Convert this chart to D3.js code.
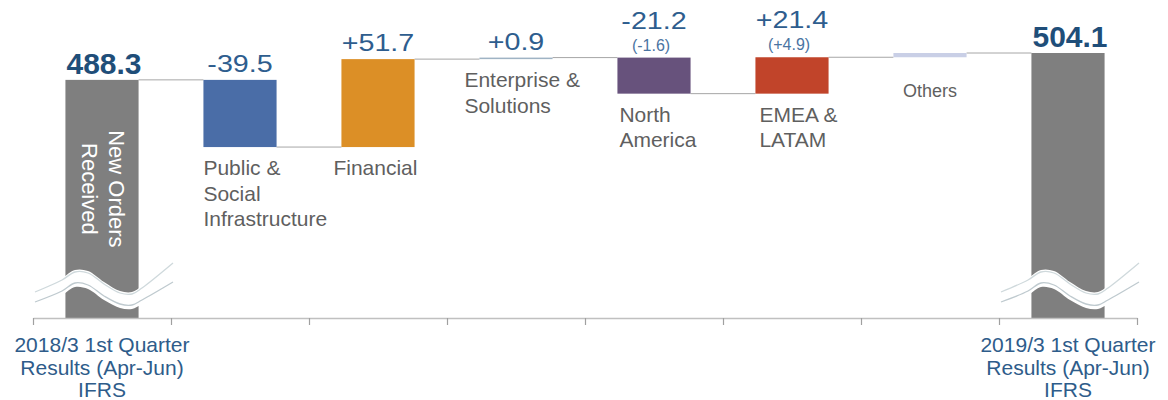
<!DOCTYPE html>
<html>
<head>
<meta charset="utf-8">
<script src="https://cdn.jsdelivr.net/npm/d3@7"></script>
<style>
  body { margin: 0; background: #ffffff; }
  svg { display: block; font-family: "Liberation Sans", Arial, sans-serif; }
</style>
</head>
<body>
<svg id="chart" width="1168" height="400"></svg>
<script>
// ---- data ----
const categories = ["prevTotal", "public", "financial", "enterprise", "northAmerica", "emea", "others", "currTotal"];
const categoryLines = [
  ["2018/3 1st Quarter", "Results (Apr-Jun)", "IFRS"],
  ["Public &", "Social", "Infrastructure"],
  ["Financial"],
  ["Enterprise &", "Solutions"],
  ["North", "America"],
  ["EMEA &", "LATAM"],
  ["Others"],
  ["2019/3 1st Quarter", "Results (Apr-Jun)", "IFRS"]
];
const kinds = ["total", "delta", "delta", "delta", "delta", "delta", "delta", "total"];
const values = [488.3, -39.5, 51.7, 0.9, -21.2, 21.4, 2.5, 504.1];
const valueLabels = ["488.3", "-39.5", "+51.7", "+0.9", "-21.2", "+21.4", "", "504.1"];
const subLabels = ["", "", "", "", "(-1.6)", "(+4.9)", "", ""];
const barColors = ["#7f7f7f", "#4a6da7", "#dc8f26", "#9fb3c4", "#67527c", "#c1442a", "#c9cfe6", "#7f7f7f"];
const barTitle = ["New Orders", "Received"];
const axisFloor = 348.3;

// ---- layout ----
const svg = d3.select("#chart");
const x = d3.scaleBand().domain(categories).range([33, 1137]).paddingInner(0.47).paddingOuter(0.235);
const edges = d3.scaleLinear().domain([0, categories.length]).range([33, 1137]);
const y = d3.scaleLinear().domain([axisFloor, 504.1]).range([318, 53]);

// running totals for the waterfall
let run = 0;
const bars = categories.map((c, i) => {
  let start, end;
  if (kinds[i] === "total") { start = axisFloor; end = values[i]; run = values[i]; }
  else { start = run; end = run + values[i]; run = end; }
  return { key: c, i, start, end, lo: Math.min(start, end), hi: Math.max(start, end), total: kinds[i] === "total" };
});

// connector lines between consecutive bars
const conn = svg.append("g").attr("stroke", "#a6a6a6").attr("stroke-width", 1);
bars.slice(0, -1).forEach((b, i) => {
  conn.append("line")
    .attr("x1", x(b.key) + x.bandwidth()).attr("x2", x(bars[i + 1].key))
    .attr("y1", y(b.end)).attr("y2", y(b.end));
});

// bars
svg.append("g").selectAll("rect").data(bars).join("rect")
  .attr("x", d => x(d.key))
  .attr("width", x.bandwidth())
  .attr("y", d => y(d.hi))
  .attr("height", d => Math.max(1.5, y(d.lo) - y(d.hi)))
  .attr("fill", (d, i) => barColors[i]);

// axis break marks on the total bars
const upperRel = [[-67, 292], [-40, 280], [-27, 272], [-14, 273], [2, 284], [18, 293], [30, 294], [40, 288], [71, 263]];
const lowerRel = [[-67, 302], [-40, 291], [-27, 283], [-14, 285], [2, 296], [18, 304], [30, 305], [40, 300], [71, 282]];
const curve = d3.line().curve(d3.curveCatmullRom.alpha(0.5));
bars.filter(b => b.total).forEach(b => {
  const cx = x(b.key) + x.bandwidth() / 2;
  const up = upperRel.map(([dx, yy]) => [cx + dx, yy]);
  const low = lowerRel.map(([dx, yy]) => [cx + dx, yy]);
  const band = d3.area().curve(d3.curveCatmullRom.alpha(0.5))
    .x(d => d[0]).y0(d => d[1] - 2).y1((d, k) => low[k][1] + 4);
  svg.append("path").attr("d", band(up)).attr("fill", "#ffffff");
  svg.append("path").attr("d", curve(up)).attr("fill", "none").attr("stroke", "#cfd9dc").attr("stroke-width", 1.3);
  svg.append("path").attr("d", curve(low)).attr("fill", "none").attr("stroke", "#bfcacf").attr("stroke-width", 1.3);
});

// rotated caption inside the first bar
const first = bars[0];
const cap = svg.append("text")
  .attr("transform", `translate(${x(first.key) + x.bandwidth() / 2 + 7},${y(first.end) + 109}) rotate(90)`)
  .attr("fill", "#ffffff").attr("font-size", 22).attr("text-anchor", "middle");
barTitle.forEach((t, k) => cap.append("tspan").attr("x", 0).attr("dy", k === 0 ? 0 : 27).text(t));

// x axis with ticks at the band edges
const axis = svg.append("g").attr("transform", "translate(0,318)")
  .call(d3.axisBottom(edges).tickValues(d3.range(categories.length + 1)).tickFormat("").tickSizeInner(7).tickSizeOuter(0));
axis.select(".domain").attr("stroke", "#c0c0c0").attr("stroke-width", 1.6);
axis.selectAll(".tick line").attr("stroke", "#a0a0a0").attr("stroke-width", 1.2);

// value labels
bars.forEach((b, i) => {
  const cx = x(b.key) + x.bandwidth() / 2;
  const top = y(b.hi);
  if (b.total) {
    svg.append("text").attr("x", cx + 2).attr("y", top - 6)
      .attr("text-anchor", "middle").attr("font-size", 30).attr("font-weight", "bold")
      .attr("fill", "#1f4e79").text(valueLabels[i]);
  } else if (valueLabels[i]) {
    const base = subLabels[i] ? top - 29 : top - 8;
    svg.append("text").attr("transform", `translate(${cx},${base}) scale(1.17,1)`)
      .attr("text-anchor", "middle").attr("font-size", 24.5)
      .attr("fill", "#2e5d8e").text(valueLabels[i]);
    if (subLabels[i]) {
      svg.append("text").attr("x", cx - 3).attr("y", top - 7)
        .attr("text-anchor", "middle").attr("font-size", 16)
        .attr("fill", "#4a74a2").text(subLabels[i]);
    }
  }
});

// category labels
const nudge = { financial: -8, enterprise: -15, northAmerica: 2, emea: 4 };
bars.forEach((b, i) => {
  const lines = categoryLines[i];
  if (b.total) {
    const cx = x(b.key) + x.bandwidth() / 2;
    const t = svg.append("text").attr("text-anchor", "middle").attr("font-size", 21).attr("fill", "#2e5c8a");
    lines.forEach((s, k) => t.append("tspan").attr("x", cx).attr("y", 352 + k * 22.5).text(s));
  } else if (b.key === "others") {
    const cx = x(b.key) + x.bandwidth() / 2;
    svg.append("text").attr("x", cx).attr("y", y(b.lo) + 40)
      .attr("text-anchor", "middle").attr("font-size", 18).attr("fill", "#5f5f5f").text(lines[0]);
  } else {
    const lx = x(b.key) + (nudge[b.key] || 0);
    const t = svg.append("text").attr("font-size", 21).attr("fill", "#5f5f5f");
    lines.forEach((s, k) => t.append("tspan").attr("x", lx).attr("y", y(b.lo) + 28 + k * 25.5).text(s));
  }
});
</script>
</body>
</html>
